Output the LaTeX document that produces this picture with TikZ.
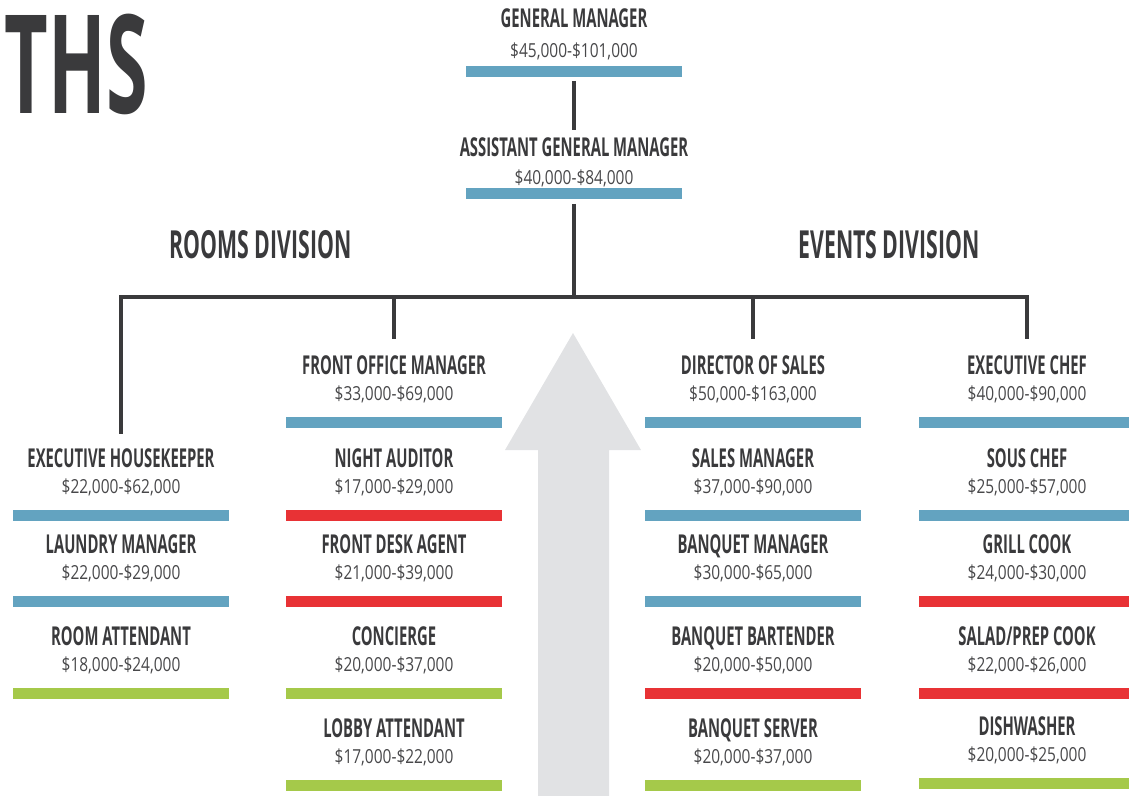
\documentclass[tikz,border=0pt]{standalone}
\usepackage{fontspec}
\setmainfont{Open Sans}
\newfontfamily\headfont[FakeStretch=0.57]{Open Sans}
\newfontfamily\bigfont[FakeStretch=0.55]{Open Sans}
\newfontfamily\payfont[FakeStretch=0.8]{Open Sans}

\definecolor{ink}{RGB}{58,58,60}
\definecolor{paygray}{RGB}{72,72,74}
\definecolor{barblue}{RGB}{99,163,192}
\definecolor{barred}{RGB}{232,50,53}
\definecolor{bargreen}{RGB}{165,201,74}
\definecolor{arrowgray}{RGB}{225,226,228}

\tikzset{
  jobtitle/.style={anchor=base, inner sep=0pt, text=ink, font=\headfont\bfseries\fontsize{19.5}{21}\selectfont},
  pay/.style={anchor=base, inner sep=0pt, text=paygray, font=\payfont\fontsize{14.5}{16}\selectfont},
  bar/.style={fill=#1, draw=none, inner sep=0pt, minimum width=162pt, minimum height=8.25pt},
  link/.style={draw=ink, line width=2.4pt},
  division/.style={anchor=base, inner sep=0pt, text=ink, font=\bigfont\bfseries\fontsize{29}{32}\selectfont},
}

% name, x, bar y, colour, title, pay
\newcommand{\job}[6]{%
  \node[bar=#4] (#1bar) at (#2,#3) {};
  \node[jobtitle] (#1) at (#2,#3-48) {#5};
  \node[pay] (#1pay) at (#2,#3-22) {#6};
}

\begin{document}
\begin{tikzpicture}[x={(0.75pt,0)}, y={(0,-0.75pt)}]
  \useasboundingbox (0,0) rectangle (1129,796);

  \fill[arrowgray] (573,333) -- (641,450) -- (609,450) -- (609,800)
    -- (538,800) -- (538,450) -- (505,450) -- cycle;

  \node[anchor=base east, inner sep=0pt, text=ink, font=\bigfont\bfseries\fontsize{103}{110}\selectfont] (paths) at (148,113) {THS};

  \node[jobtitle] (gm) at (574,27) {GENERAL MANAGER};
  \node[pay] (gmpay) at (574,57) {\$45,000-\$101,000};
  \node[bar=barblue] (gmbar) at (574,71) {};

  \node[jobtitle] (agm) at (574,156) {ASSISTANT GENERAL MANAGER};
  \node[pay] (agmpay) at (574,184) {\$40,000-\$84,000};
  \node[bar=barblue] (agmbar) at (574,193.5) {};

  \node[division] (rooms) at (260.5,258) {ROOMS DIVISION};
  \node[division] (events) at (889,258) {EVENTS DIVISION};

  \job{eh}{121}{515}{barblue}{EXECUTIVE HOUSEKEEPER}{\$22,000-\$62,000}
  \job{lm}{121}{601.5}{barblue}{LAUNDRY MANAGER}{\$22,000-\$29,000}
  \job{ra}{121}{693.5}{bargreen}{ROOM ATTENDANT}{\$18,000-\$24,000}

  \job{fom}{394}{422}{barblue}{FRONT OFFICE MANAGER}{\$33,000-\$69,000}
  \job{na}{394}{515}{barred}{NIGHT AUDITOR}{\$17,000-\$29,000}
  \job{fda}{394}{601.5}{barred}{FRONT DESK AGENT}{\$21,000-\$39,000}
  \job{conc}{394}{693.5}{bargreen}{CONCIERGE}{\$20,000-\$37,000}
  \job{lobby}{394}{785}{bargreen}{LOBBY ATTENDANT}{\$17,000-\$22,000}

  \job{dos}{753}{422}{barblue}{DIRECTOR OF SALES}{\$50,000-\$163,000}
  \job{sm}{753}{515}{barblue}{SALES MANAGER}{\$37,000-\$90,000}
  \job{bm}{753}{601.5}{barblue}{BANQUET MANAGER}{\$30,000-\$65,000}
  \job{bb}{753}{693.5}{barred}{BANQUET BARTENDER}{\$20,000-\$50,000}
  \job{bs}{753}{785}{bargreen}{BANQUET SERVER}{\$20,000-\$37,000}

  \job{ec}{1027}{422}{barblue}{EXECUTIVE CHEF}{\$40,000-\$90,000}
  \job{sous}{1027}{515}{barblue}{SOUS CHEF}{\$25,000-\$57,000}
  \job{grill}{1027}{601.5}{barred}{GRILL COOK}{\$24,000-\$30,000}
  \job{salad}{1027}{693.5}{barred}{SALAD/PREP COOK}{\$22,000-\$26,000}
  \job{dish}{1027}{783}{bargreen}{DISHWASHER}{\$20,000-\$25,000}

  \coordinate (hub) at (574,297);
  \draw[link, shorten <=3pt, shorten >=5pt] (gmbar.south) -- (agm.north);
  \draw[link, shorten <=3.5pt] (agmbar.south) -- (hub);
  \draw[link, shorten >=10.5pt] (hub) -| (eh.north);
  \draw[link, shorten >=12pt] (hub) -| (fom.north);
  \draw[link, shorten >=12pt] (hub) -| (dos.north);
  \draw[link, shorten >=12pt] (hub) -| (ec.north);
\end{tikzpicture}
\end{document}
